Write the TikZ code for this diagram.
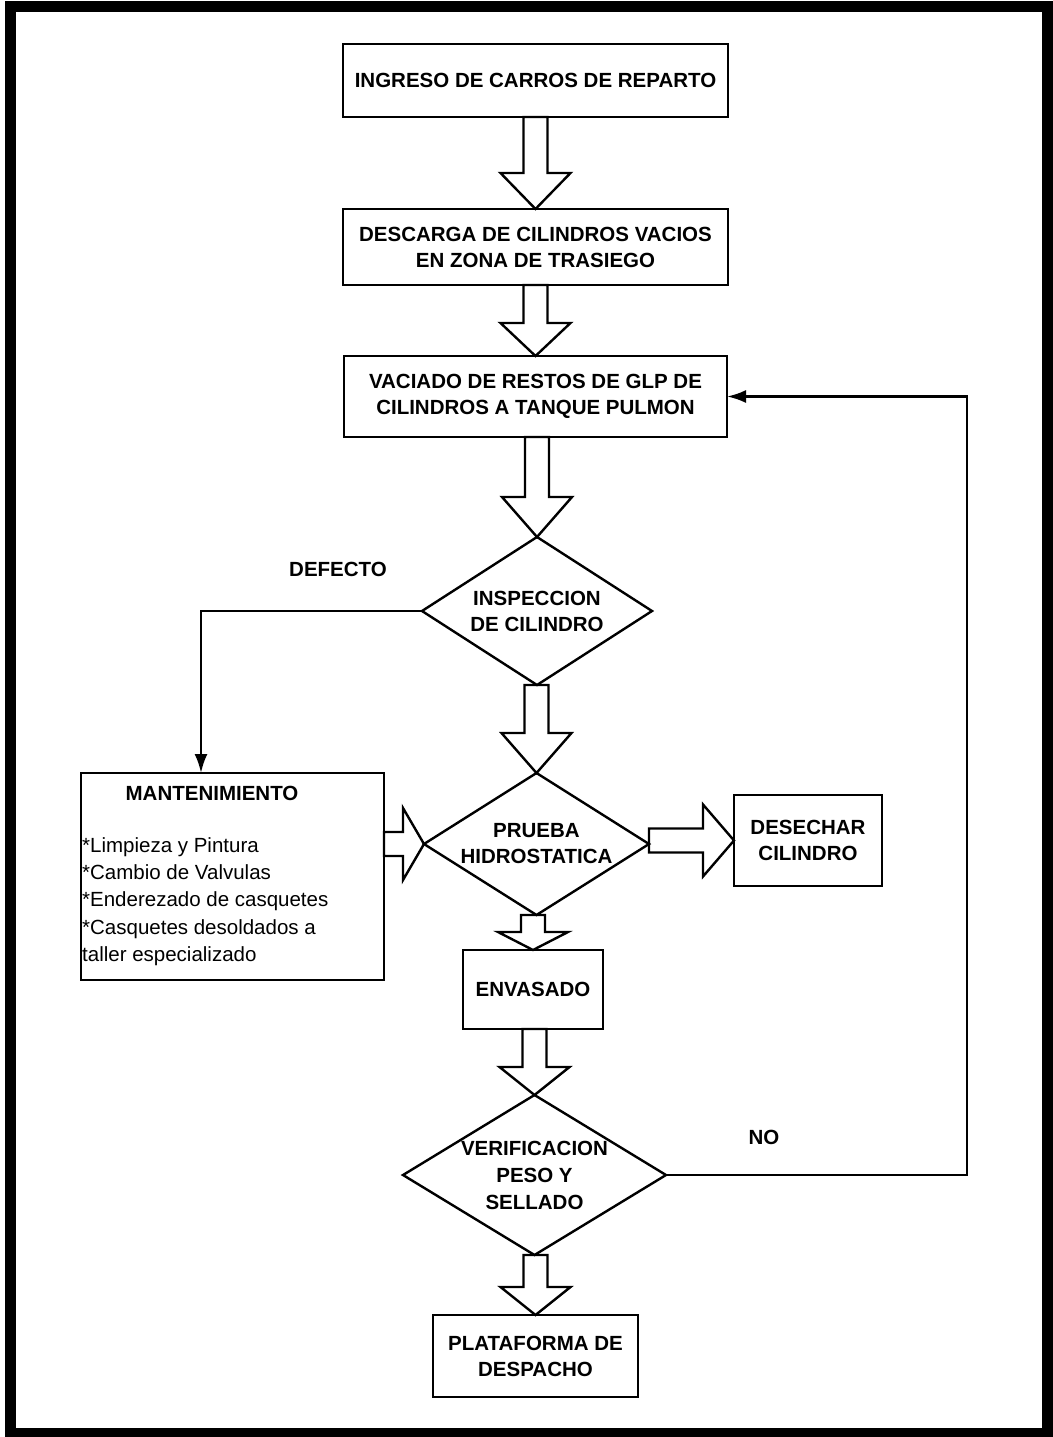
\documentclass[tikz,border=0pt]{standalone}
\usepackage{fontspec}
\setmainfont{Liberation Sans}
\usetikzlibrary{positioning}
\usetikzlibrary{shapes}
\usetikzlibrary{calc}
\usetikzlibrary{arrows.meta}
\tikzset{
  box/.style 2 args={
    rectangle,
    draw,
    line width=2.4pt,
    minimum width=#1,
    minimum height=#2,
    align=center,
    outer sep=0pt},
  dec/.style 2 args={
    diamond,
    draw,
    line width=2.4pt,
    minimum width=#1,
    minimum height=#2,
    inner sep=0pt,
    outer sep=0pt},
}
% hollow block arrows: from, to, head length
\newcommand{\blkdown}[3]{%
  \draw[blk] ($(#2 |- #1)+(-12,0)$) -- ($(#2)+(-12,-#3)$) -- ($(#2)+(-35,-#3)$)
    -- (#2) -- ($(#2)+(35,-#3)$) -- ($(#2)+(12,-#3)$) -- ($(#2 |- #1)+(12,0)$) -- cycle;}
\newcommand{\blkright}[3]{%
  \draw[blk] ($(#1 |- #2)+(0,-12)$) -- ($(#2)+(-#3,-12)$) -- ($(#2)+(-#3,-36)$)
    -- (#2) -- ($(#2)+(-#3,36)$) -- ($(#2)+(-#3,12)$) -- ($(#1 |- #2)+(0,12)$) -- cycle;}

\begin{document}
\begin{tikzpicture}[x=1pt, y=-1pt,
  every node/.style={font=\fontsize{20.5}{26}\selectfont\bfseries},
  blk/.style={draw, line width=2.4pt, line join=miter},
  link/.style={draw, line width=2.4pt, -{Latex[length=19pt,width=13pt]}}]
  \useasboundingbox (0,0) rectangle (1052,1437);
  \draw[line width=11pt] (10,7) rectangle (1047,1433);

  % main column
  \node[box={385}{73}] (ingreso) at (535.5, 80.5) {INGRESO DE CARROS DE REPARTO};
  \node[box={385}{76}] (descarga) at (535.5, 247) {DESCARGA DE CILINDROS VACIOS\\EN ZONA DE TRASIEGO};
  \node[box={383}{81}] (vaciado) at (535.5, 396.5) {VACIADO DE RESTOS DE GLP DE\\CILINDROS A TANQUE PULMON};
  \node[dec={230}{148}] (insp) at (537, 611) {};
  \node[align=center] (insp-t) at (insp) {INSPECCION\\DE CILINDRO};
  \node[dec={225}{142}] (prueba) at (536.5, 844) {};
  \node[align=center] (prueba-t) at (prueba) {PRUEBA\\HIDROSTATICA};
  \node[box={140}{79}] (envasado) at (533, 989.5) {ENVASADO};
  \node[dec={263}{160}] (verif) at (534.5, 1175) {};
  \node[align=center, font=\fontsize{20.5}{27}\selectfont\bfseries] (verif-t) at (verif) {VERIFICACION\\PESO Y\\SELLADO};
  \node[box={205}{82}] (despacho) at (535.5, 1356) {PLATAFORMA DE\\DESPACHO};

  % side boxes
  \node[box={303}{207}] (mant) at (232.5, 876.5) {};
  \node (mant-t) at (212, 793) {MANTENIMIENTO};
  \node[anchor=west, align=left, inner sep=0pt,
    font=\fontsize{20.5}{27.2}\selectfont] (mant-l) at (82, 901.5)
    {*Limpieza y Pintura\\*Cambio de Valvulas\\*Enderezado de casquetes\\*Casquetes desoldados a\\taller especializado};
  \node[box={148}{91}] (desechar) at (808, 840.5) {DESECHAR\\CILINDRO};

  % labels
  \node (defecto) at (338, 569) {DEFECTO};
  \node (no) at (764, 1137) {NO};
  \coordinate (mant-in) at (201, 773);

  % block arrows
  \blkdown{ingreso.south}{descarga.north}{36}
  \blkdown{descarga.south}{vaciado.north}{33}
  \blkdown{vaciado.south}{insp.north}{40}
  \blkdown{insp.south}{prueba.north}{40}
  \blkdown{prueba.south}{envasado.north}{18}
  \blkdown{envasado.south}{verif.north}{28}
  \blkdown{verif.south}{despacho.north}{28}
  \blkright{mant.east}{prueba.west}{21}
  \blkright{prueba.east}{desechar.west}{31}

  % line links
  \draw[link] (insp.west) -| (mant-in);
  \draw[link] (verif.east) -- ++(301,0) |- (vaciado.east);
\end{tikzpicture}
\end{document}
